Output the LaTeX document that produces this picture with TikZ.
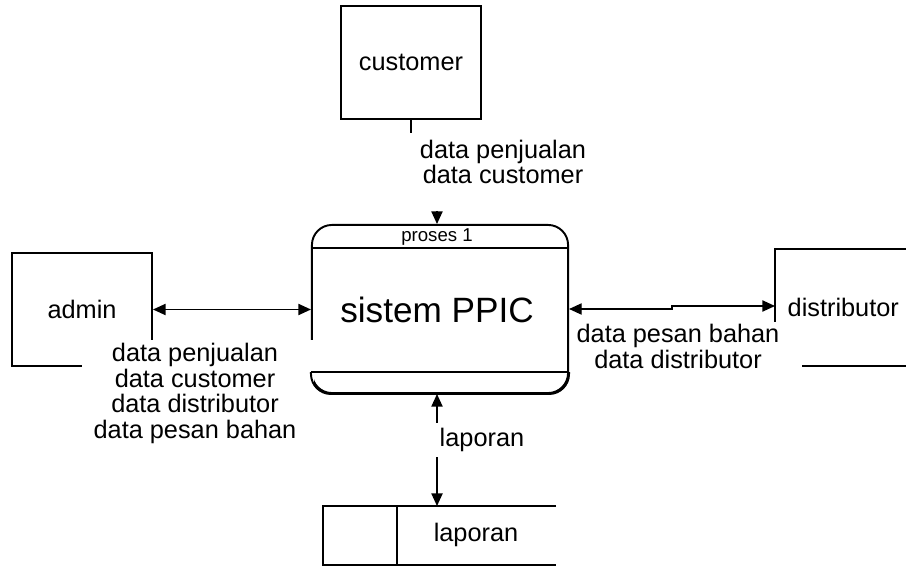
\documentclass[tikz,border=0pt]{standalone}
\usepackage{fontspec}
\setmainfont{Liberation Sans}
\usetikzlibrary{arrows.meta,calc}
\begin{document}
\begin{tikzpicture}[x=0.01cm,y=-0.01cm,
  txt/.style={font=\fontsize{7.2}{7.3}\selectfont, inner sep=0pt, align=center},
  entity/.style={draw, line width=0.55pt, minimum width=1.40cm, minimum height=1.13cm, txt},
  border/.style={line width=0.55pt},
  flow/.style={line width=0.4pt},
  tip/.style={-{Triangle[length=3.6pt,width=3.2pt]}},
  both/.style={{Triangle[length=3.6pt,width=3.2pt]}-{Triangle[length=3.6pt,width=3.2pt]}}
]
\useasboundingbox (0,0) rectangle (906,567);

% process 1
\node[draw, border, rounded corners=0.2cm, minimum width=2.56cm, minimum height=1.68cm] (proc) at (440,309) {};
\coordinate (bandtl) at ($(proc.north west)+(0,24)$);
\coordinate (bandtr) at ($(proc.north east)+(0,24)$);
\coordinate (bandbl) at ($(proc.south west)+(0,-22)$);
\coordinate (bandbr) at ($(proc.south east)+(0,-22)$);
\draw[flow] (bandtl) -- (bandtr);
\node[txt, font=\fontsize{5.3}{6}\selectfont] (procid) at (437,237) {proses 1};
\node[txt, font=\fontsize{10}{12}\selectfont] (procname) at (437,310) {sistem PPIC};

% customer
\node[entity] (cust) at (411,62.5) {customer};
\coordinate (custtick) at (411,133);
\draw[flow] (cust.south) -- (custtick);
\node[txt] (custlbl) at (503,162) {data penjualan\\data customer};
\coordinate (custin) at (437,211);
\draw[flow,tip] (custin) -- (proc.north -| custin);

% admin
\node[entity] (adm) at (82,309.5) {admin};
\draw[flow,both] (adm.east) -- (proc.west |- adm.east);
\fill[white] (82,340) rectangle (313.5,447);
\draw[flow] (bandbl) -- (bandbr);
\draw[border, rounded corners=0.2cm] (bandbl) -- (proc.south west) -- (proc.south east) -- (bandbr);
\node[txt] (admlbl) at (195,393.5) {data penjualan\\data customer\\data distributor\\data pesan bahan};

% distributor
\draw[border] (906,249) -- (775,249) -- (775,366) -- (906,366);
\node[txt, anchor=west] (dist) at (787,307) {distributor};
\coordinate (distin) at (775,306);
\draw[flow,both] (proc.east) -- (672,309) -- (672,306) -- (distin);
\fill[white] (570,322) rectangle (802,372);
\node[txt] (distlbl) at (678,346.5) {data pesan bahan\\data distributor};

% laporan store
\coordinate (storetop) at (437,506);
\draw[border] (556,506) -- (323,506) -- (323,565) -- (556,565);
\draw[flow] (397,506) -- (397,565);
\node[txt] (store) at (476,535) {laporan};
\draw[flow,both] (proc.south -| storetop) -- (storetop);
\node[txt, fill=white, anchor=west, inner xsep=2pt, inner ysep=1.5pt] (laplbl) at (432,440) {laporan};
\end{tikzpicture}
\end{document}
